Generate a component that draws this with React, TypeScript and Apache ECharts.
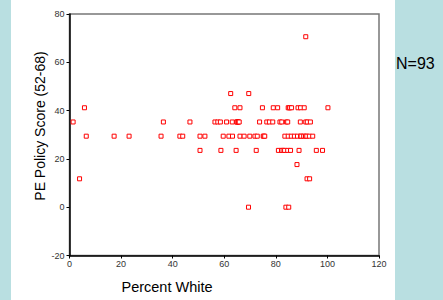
import React, { useEffect, useRef } from "react";
import * as echarts from "echarts";

// Percent White (x) grouped by PE Policy Score level (y)
const row70 = [91.6];
const row47 = [62.5, 69.5];
const row41 = [5.8, 64.1, 66.1, 74.8, 79.0, 80.7, 84.8, 85.2, 85.4, 86.1, 88.6, 89.6, 91.0, 100.2];
const row35 = [1.4, 36.4, 46.7, 56.4, 57.5, 58.5, 60.9, 63.1, 64.8, 64.9, 65.3, 65.5, 65.8, 73.7, 76.5, 77.5, 78.8, 81.6, 82.3, 84.1, 84.6, 89.5, 91.6, 92.2, 93.4];
const row29 = [6.5, 17.3, 23.1, 35.5, 42.8, 43.9, 50.6, 52.5, 59.6, 61.8, 63.2, 66.1, 67.7, 69.9, 71.9, 72.8, 75.1, 75.4, 75.7, 83.5, 84.8, 86.0, 87.2, 88.4, 89.6, 89.8, 90.8, 91.5, 92.0, 93.0, 94.3];
const row23 = [50.6, 58.7, 64.6, 72.4, 81.0, 82.2, 82.8, 83.4, 84.6, 85.7, 89.0, 95.7, 98.1];
const row17 = [88.2];
const row11 = [3.9, 92.1, 93.1];
const row0 = [69.4, 83.9, 85.0];

const scoreLevels = [70.59, 47.06, 41.18, 35.29, 29.41, 23.53, 17.65, 11.76, 0];
const rows = [row70, row47, row41, row35, row29, row23, row17, row11, row0];

const xTicks = [0, 20, 40, 60, 80, 100, 120];
const yTicks = [-20, 0, 20, 40, 60, 80];
const xTitle = "Percent White";
const yTitle = "PE Policy Score (52-68)";
const nLabel = "N=93";

export default function App() {
  const ref = useRef<HTMLDivElement>(null);
  useEffect(() => {
    document.body.style.margin = "0";
    if (!ref.current) return;
    const chart = echarts.init(ref.current, null, { renderer: "svg" });
    const data: number[][] = [];
    rows.forEach((r, i) => r.forEach((x) => data.push([x, scoreLevels[i]])));
    const font = "Arial, 'Liberation Sans', sans-serif";
    chart.setOption({
      animation: false,
      backgroundColor: "#b9dfe1",
      graphic: [
        { type: "rect", z: -10, shape: { x: 11, y: 0, width: 384, height: 300 }, style: { fill: "#ffffff" } },
        { type: "text", x: 396, y: 63, style: { text: nLabel, fontSize: 16, fontFamily: font, fill: "#000", verticalAlign: "middle" } },
        { type: "text", x: 167, y: 287, style: { text: xTitle, fontSize: 14.5, fontFamily: font, fill: "#000", align: "center", verticalAlign: "middle" } },
        { type: "text", x: 39.5, y: 126, rotation: Math.PI / 2, style: { text: yTitle, fontSize: 14, fontFamily: font, fill: "#000", align: "center", verticalAlign: "middle" } },
      ],
      grid: {
        left: 69.5,
        right: 64,
        top: 14,
        bottom: 44.5,
        show: true,
        borderColor: "#777",
        borderWidth: 1.5,
        backgroundColor: "transparent",
      },
      xAxis: {
        type: "value",
        min: xTicks[0],
        max: xTicks[xTicks.length - 1],
        interval: 20,
        axisLine: { show: true, onZero: false, lineStyle: { color: "#000", width: 1.5 } },
        axisTick: { show: true, length: 3, lineStyle: { color: "#000" } },
        axisLabel: { fontSize: 9, fontFamily: font, color: "#333", margin: 4 },
        splitLine: { show: false },
      },
      yAxis: {
        type: "value",
        min: yTicks[0],
        max: yTicks[yTicks.length - 1],
        interval: 20,
        axisLine: { show: true, onZero: false, lineStyle: { color: "#000", width: 1.5 } },
        axisTick: { show: true, length: 3, lineStyle: { color: "#000" } },
        axisLabel: { fontSize: 9, fontFamily: font, color: "#333", margin: 5 },
        splitLine: { show: false },
      },
      series: [
        {
          type: "scatter",
          data,
          symbol: "rect",
          symbolSize: 4,
          itemStyle: { color: "#fff", borderColor: "#ff0000", borderWidth: 1, opacity: 1 },
        },
      ],
    });
    return () => chart.dispose();
  }, []);
  return <div ref={ref} style={{ width: 443, height: 300 }} />;
}
